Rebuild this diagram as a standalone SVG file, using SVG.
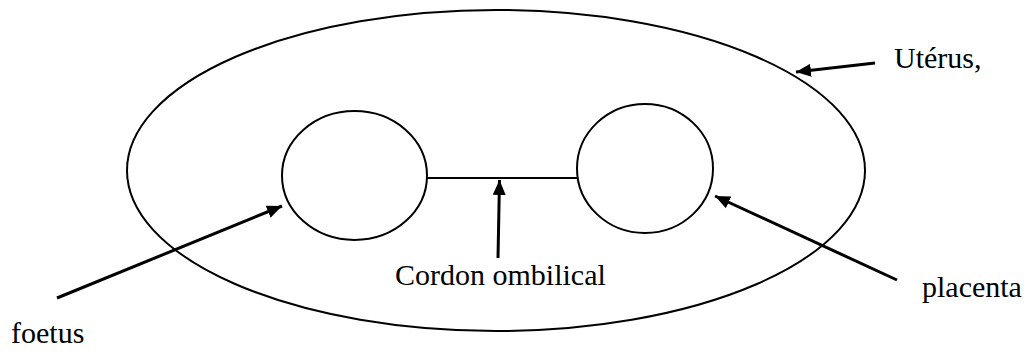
<svg xmlns="http://www.w3.org/2000/svg" width="1030" height="353" viewBox="0 0 1030 353">
<style>
.shape{fill:none;stroke:#000;stroke-width:2}
.arr{fill:none;stroke:#000;stroke-width:3;marker-end:url(#ah)}
.lbl{font-family:"Liberation Serif","Times New Roman",serif;font-size:30px;fill:#000}
</style>
<defs>
<marker id="ah" markerUnits="userSpaceOnUse" markerWidth="16" markerHeight="16" viewBox="0 0 16 16" refX="15" refY="8" orient="auto">
<path d="M0,1.5 L15,8 L0,14.5 Z" fill="#000"/>
</marker>
</defs>
<rect width="1030" height="353" fill="#fff"/>
<g id="uterus">
<ellipse class="shape" cx="496" cy="170.5" rx="369" ry="160.5"/>
<text class="lbl" x="894" y="68">Utérus,</text>
</g>
<g id="foetus">
<ellipse class="shape" cx="354.5" cy="175.5" rx="72.5" ry="64.5"/>
<text class="lbl" x="11" y="343">foetus</text>
</g>
<g id="placenta">
<ellipse class="shape" cx="645" cy="168.5" rx="68" ry="64.5"/>
<text class="lbl" x="922" y="297">placenta</text>
</g>
<g id="cordon">
<text class="lbl" x="395" y="285">Cordon ombilical</text>
</g>
<g id="connectors">
<line class="shape" x1="427" y1="178" x2="577" y2="178"/>
<line class="arr" x1="875" y1="63" x2="796" y2="72"/>
<line class="arr" x1="57" y1="298" x2="282" y2="206"/>
<line class="arr" x1="897" y1="280" x2="715" y2="196"/>
<line class="arr" x1="498" y1="258" x2="499.5" y2="180"/>
</g>
</svg>
